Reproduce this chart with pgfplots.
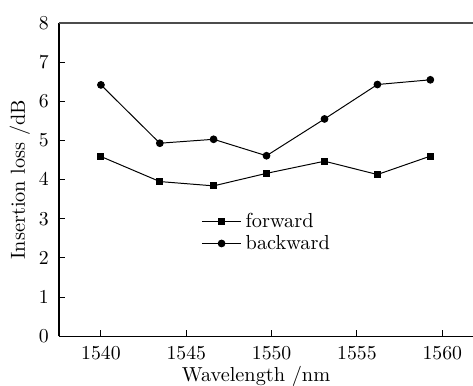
\documentclass[border=0pt]{standalone}
\usepackage{pgfplots}
\pgfplotsset{compat=1.18}
\begin{document}
\begin{tikzpicture}
\begin{axis}[
  scale only axis, width=210pt, height=158.8pt,
  xmin=1537.54, xmax=1561.8, ymin=0, ymax=8,
  axis x line*=bottom, axis y line*=left,
  clip=false,
  font=\fontsize{10.3}{12}\selectfont,
  xtick={1540,1545,1550,1555,1560}, ytick={0,1,2,3,4,5,6,7,8},
  tick align=inside, major tick length=3pt,
  tick style={black, line width=0.5pt},
  axis line style={black, line width=0.6pt},
  x tick label style={/pgf/number format/1000 sep={}, yshift=-2pt},
  y tick label style={xshift=-1.7pt},
  xlabel={Wavelength /nm}, ylabel={Insertion loss /dB},
  xlabel style={at={(axis description cs:0.476,0)}, anchor=base, yshift=-22.8pt},
  ylabel style={at={(axis description cs:-0.0948,0.5)}, anchor=center, rotate=0},
  legend style={draw=none, fill=none, at={(axis description cs:0.343,0.408)}, anchor=north west, inner sep=0pt, row sep=-1.5pt},
  legend cell align=left,
  legend image code/.code={\draw[#1] (0pt,0pt) -- (20pt,0pt); \draw[#1, only marks] plot coordinates {(10pt,0pt)};},
]
\coordinate (SW) at (rel axis cs:0,0);
\coordinate (NE) at (rel axis cs:1,1);
\draw[gray!60!black, line width=0.8pt] (rel axis cs:0,1) -- (rel axis cs:1,1);
\addplot[black, line width=0.5pt, mark=square*, mark size=1.5pt] coordinates {
  (1540,4.59) (1543.45,3.95) (1546.6,3.84) (1549.7,4.16) (1553.1,4.47) (1556.2,4.13) (1559.3,4.60)};
\addlegendentry{forward}
\addplot[black, line width=0.5pt, mark=*, mark size=1.7pt] coordinates {
  (1540,6.42) (1543.45,4.93) (1546.6,5.03) (1549.7,4.61) (1553.1,5.55) (1556.2,6.43) (1559.3,6.55)};
\addlegendentry{backward}
\end{axis}
\pgfresetboundingbox
\path[use as bounding box] ([shift={(-29.9pt,-24.9pt)}]SW) rectangle ([shift={(0pt,11.7pt)}]NE);
\end{tikzpicture}
\end{document}
